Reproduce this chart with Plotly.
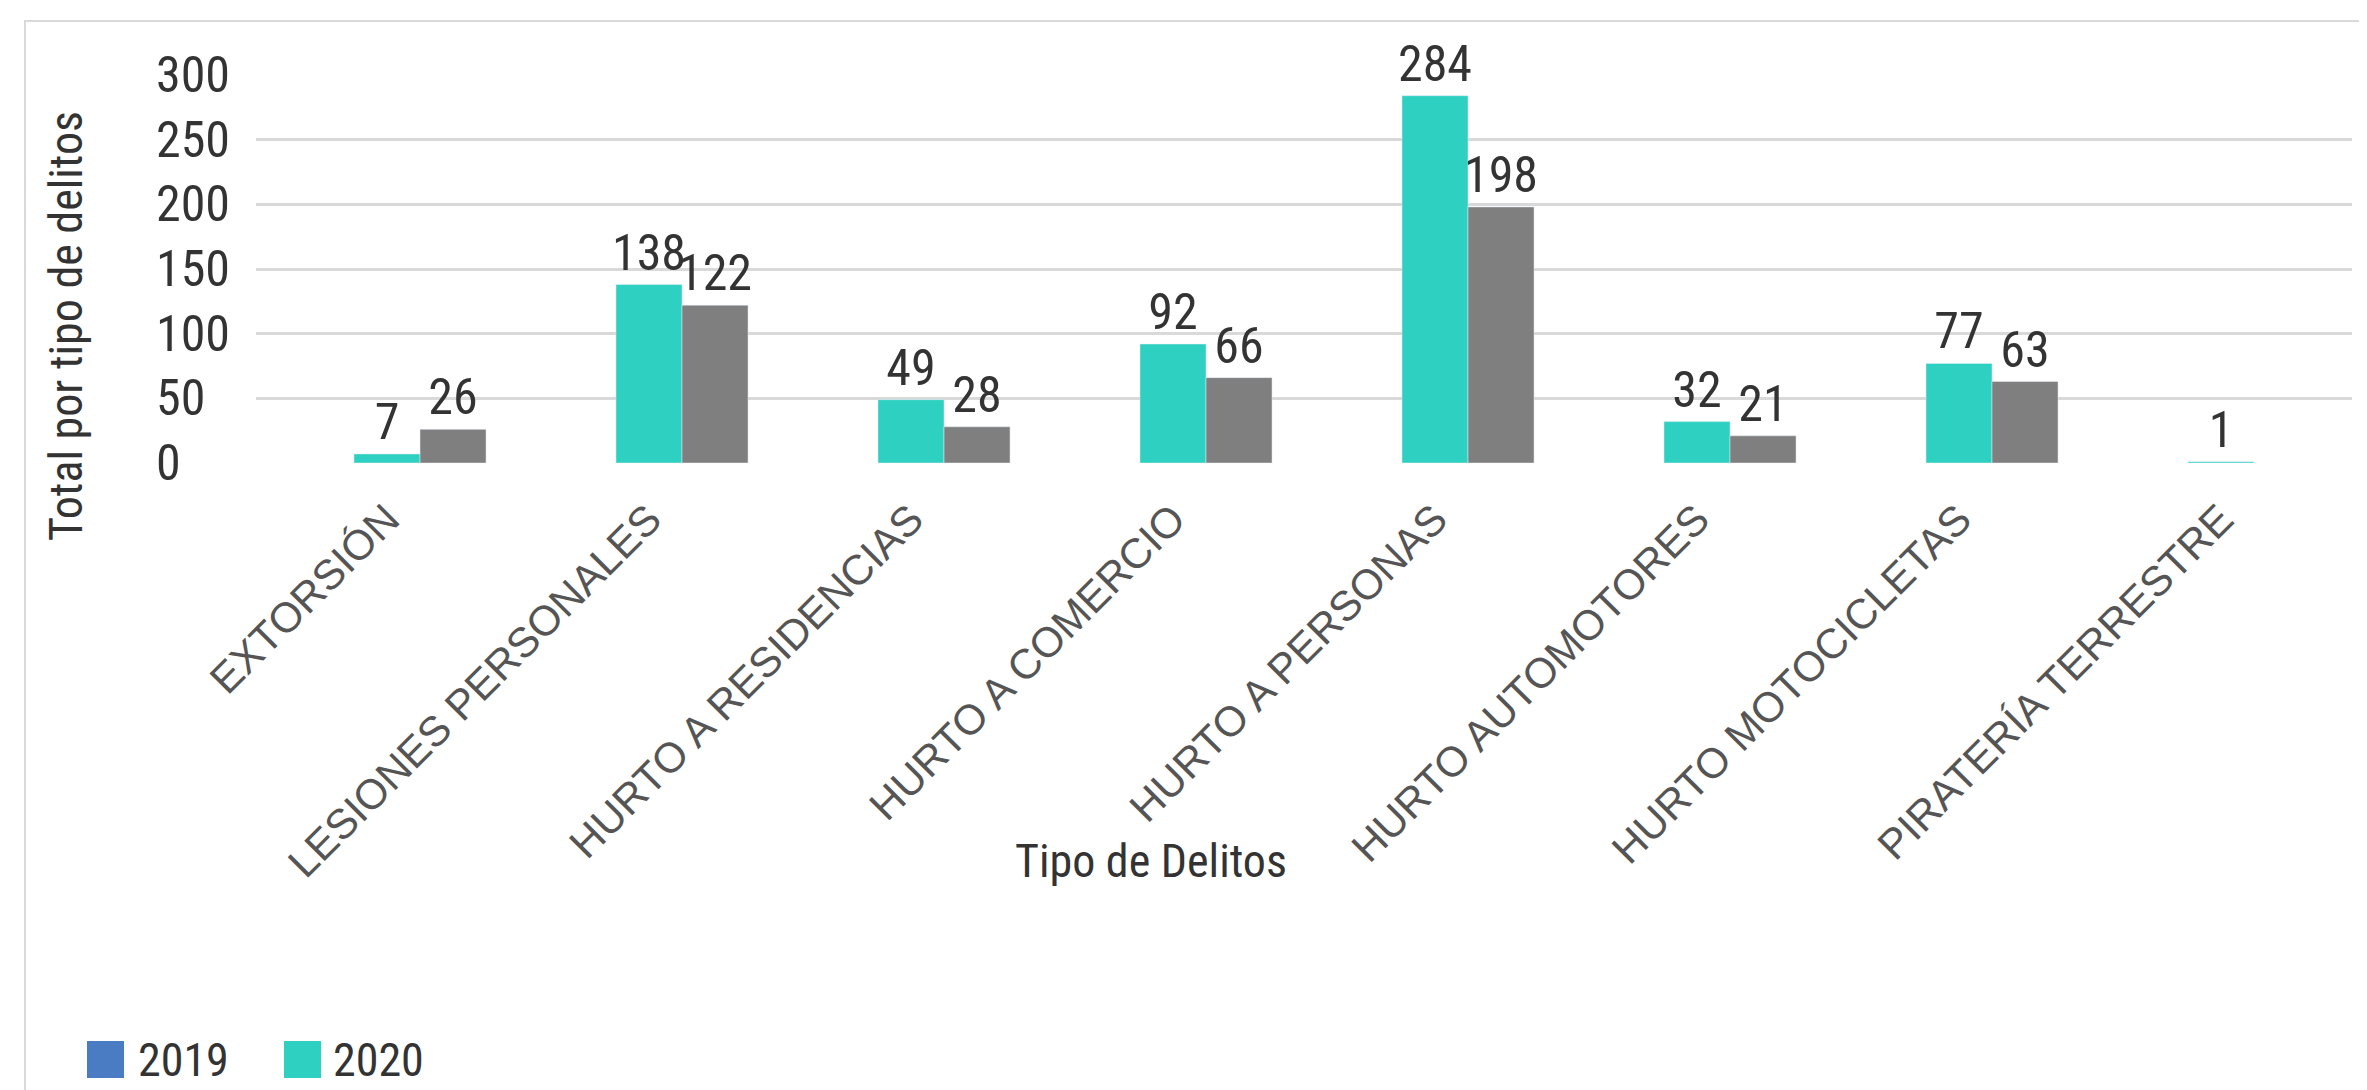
import plotly.graph_objects as go

# ---------------- data ----------------
categories = [
    "EXTORSIÓN",
    "LESIONES PERSONALES",
    "HURTO A RESIDENCIAS",
    "HURTO A COMERCIO",
    "HURTO A PERSONAS",
    "HURTO AUTOMOTORES",
    "HURTO MOTOCICLETAS",
    "PIRATERÍA TERRESTRE",
]
values_2019 = [None, None, None, None, None, None, None, None]
values_2020 = [7, 138, 49, 92, 284, 32, 77, 1]
values_grey = [26, 122, 28, 66, 198, 21, 63, None]
y_ticks = [0, 50, 100, 150, 200, 250, 300]
legend_labels = ["2019", "2020"]

# ---------------- style ----------------
BLUE = "#4a7cc4"
TEAL = "#2ed1c1"
GREY = "#7f7f7f"
GRID = "#d9d9d9"
TXT = "#333333"
CAT_TXT = "#555555"
NARROW = "Liberation Sans Narrow, Arial Narrow, Roboto Condensed, Liberation Sans, sans-serif"
REG = "Liberation Sans, Arial, sans-serif"

FW, FH = 2367, 1090
L, R, T, B = 248, 23, 67, 635
W = FW - L - R
H = FH - T - B


def px(xp):
    return (xp - L) / W


def py(yp):
    return (T + H - yp) / H


fig = go.Figure()
fig.add_trace(go.Bar(name=legend_labels[0], x=categories, y=values_2019,
                     marker_color=BLUE, showlegend=False))
fig.add_trace(go.Bar(name=legend_labels[1], x=categories, y=values_2020,
                     marker_color=TEAL, showlegend=False,
                     text=values_2020, textposition="outside",
                     textfont=dict(family=NARROW, size=50, color=TXT),
                     constraintext="none", cliponaxis=False))
fig.add_trace(go.Bar(name="Serie 3", x=categories, y=values_grey,
                     marker_color=GREY, showlegend=False,
                     text=values_grey, textposition="outside",
                     textfont=dict(family=NARROW, size=50, color=TXT),
                     constraintext="none", cliponaxis=False))

annotations = []
for v in y_ticks:
    annotations.append(dict(x=px(146), xref="paper", xanchor="left",
                            y=v, yref="y", yanchor="middle",
                            text=str(v), showarrow=False,
                            font=dict(family=NARROW, size=50, color=TXT)))

# axis titles
annotations.append(dict(x=px(58), xref="paper", y=py(318), yref="paper",
                        text="Total por tipo de delitos", textangle=-90,
                        showarrow=False, xanchor="center", yanchor="middle",
                        font=dict(family=NARROW, size=46, color=TXT)))
annotations.append(dict(x=px(1143), xref="paper", y=py(853), yref="paper",
                        text="Tipo de Delitos", showarrow=False,
                        xanchor="center", yanchor="middle",
                        font=dict(family=NARROW, size=46, color=TXT)))

# legend
shapes = []
legend_items = [(BLUE, 79, 128, legend_labels[0]), (TEAL, 276, 323, legend_labels[1])]
for color, sx, tx, label in legend_items:
    shapes.append(dict(type="rect", xref="paper", yref="paper",
                       x0=px(sx), x1=px(sx + 37), y0=py(1070), y1=py(1033),
                       fillcolor=color, line=dict(width=0)))
    annotations.append(dict(x=px(tx), xref="paper", xanchor="left",
                            y=py(1052), yref="paper", yanchor="middle",
                            text=label, showarrow=False,
                            font=dict(family=NARROW, size=46, color=TXT)))

# outer chart border (left and top edges visible)
shapes.append(dict(type="rect", xref="paper", yref="paper",
                   x0=px(17), x1=px(2400), y0=py(1110), y1=py(13),
                   line=dict(color=GRID, width=2), fillcolor="rgba(0,0,0,0)",
                   layer="below"))

fig.update_layout(
    width=FW, height=FH,
    margin=dict(l=L, r=R, t=T, b=B, pad=0),
    paper_bgcolor="white", plot_bgcolor="white",
    barmode="group", bargap=0.244, bargroupgap=0,
    showlegend=False,
    annotations=annotations, shapes=shapes,
    xaxis=dict(showgrid=False, showline=False, ticks="", tickangle=-45,
               tickfont=dict(family=REG, size=42, color=CAT_TXT),
               ticklabelstandoff=22),
    yaxis=dict(range=[0, 300], tickvals=y_ticks, showgrid=True,
               gridcolor=GRID, gridwidth=3, zeroline=True,
               zerolinecolor="rgba(0,0,0,0)", showticklabels=False,
               showline=False),
)

fig.write_html("out.html")
